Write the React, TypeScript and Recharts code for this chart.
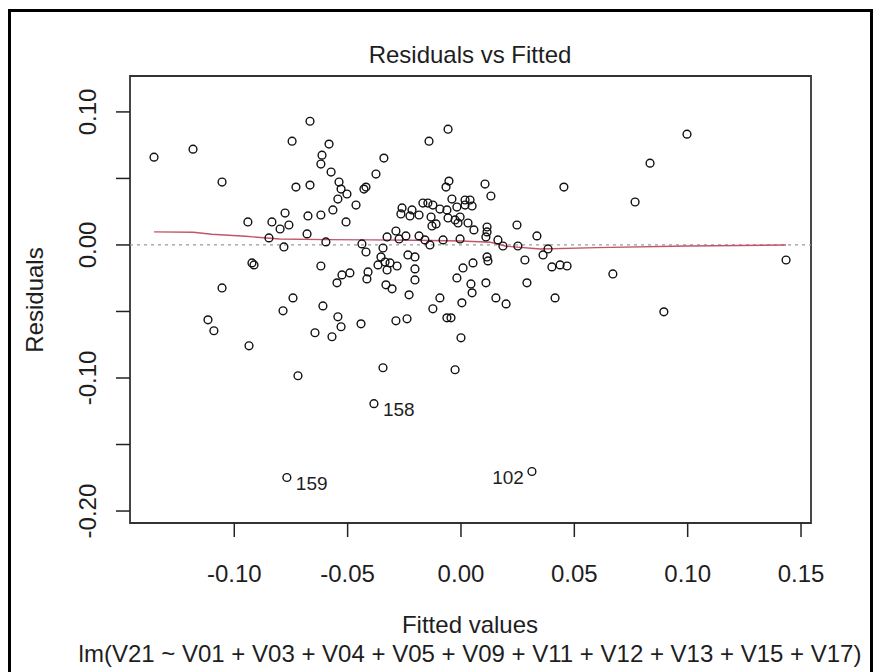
import React from "react";
import {
  ScatterChart,
  Scatter,
  XAxis,
  YAxis,
  ReferenceLine,
  ReferenceArea,
} from "recharts";

// fitted values / residuals
const fitted = [
  -0.1354, -0.1182, -0.1054, -0.094, -0.0834, -0.0798, -0.0776, -0.0759, -0.0847, -0.0781,
  -0.0922, -0.0913, -0.1054, -0.1116, -0.109, -0.0935, -0.0785, -0.0741, -0.0719,
  -0.0745, -0.0666, -0.0728, -0.0666, -0.0582, -0.0613, -0.0618, -0.0573, -0.0538, -0.0529,
  -0.0503, -0.0543, -0.0565, -0.0463, -0.0507, -0.0675, -0.0618, -0.0679, -0.0596, -0.0428,
  -0.0419, -0.0375, -0.034,
  -0.0618, -0.0525, -0.0547, -0.049, -0.041, -0.0415, -0.0437, -0.0419, -0.0344, -0.0326,
  -0.0353, -0.0335, -0.0313, -0.0282, -0.0366, -0.0326, -0.0331, -0.0304, -0.0229, -0.0609,
  -0.0543, -0.0529, -0.0644, -0.0569, -0.0441, -0.0287, -0.0238, -0.0344, -0.0234, -0.0203,
  -0.0203, -0.0203, -0.0287, -0.0273, -0.0243, -0.0185,
  -0.026, -0.0265, -0.0216, -0.0185, -0.0168, -0.0146, -0.0124, -0.0093, -0.0062, -0.004,
  -0.0018, 0.0018, 0.004, 0.0018, 0.0049, -0.0132, -0.0128, -0.011, -0.0057, -0.0026,
  -0.0004, -0.0013, 0.0031, 0.0057, -0.0141, -0.0057, -0.0053, -0.0066, 0.0106, 0.0132,
  0.0115, 0.0115, 0.011, 0.0247, 0.0335, -0.0159, -0.0137, -0.0079, -0.0004, 0.0163,
  0.0185, 0.0251, 0.0362, 0.0384, -0.0225,
  0.0009, -0.0018, 0.0044, 0.0049, 0.0053, 0.0115, 0.0119, 0.011, -0.0093, -0.0124,
  -0.0062, -0.0044, 0.0004, 0.0154, 0.0199, 0.0, -0.0026, 0.0282, 0.0291, 0.0401,
  0.0437, 0.0468, 0.0415, 0.067,
  0.0454, 0.0768, 0.0834, 0.0997, 0.0895, 0.1434,
];

const resid = [
  0.066, 0.072, 0.0473, 0.0173, 0.0173, 0.012, 0.024, 0.015, 0.0053, -0.0015,
  -0.0135, -0.015, -0.0323, -0.0563, -0.0645, -0.0758, -0.0495, -0.0398, -0.0983,
  0.078, 0.093, 0.0435, 0.045, 0.0758, 0.0675, 0.0608, 0.0548, 0.0473, 0.042,
  0.0383, 0.0345, 0.0263, 0.03, 0.0173, 0.0218, 0.0225, 0.0083, 0.0023, 0.042,
  0.0435, 0.0533, 0.0653,
  -0.0158, -0.0225, -0.0285, -0.021, -0.0203, -0.0255, 0.0008, -0.0053, -0.0023, 0.006,
  -0.009, -0.0128, -0.0135, -0.0158, -0.015, -0.0188, -0.03, -0.033, -0.0375, -0.0458,
  -0.054, -0.0615, -0.066, -0.069, -0.0593, -0.057, -0.0555, -0.0923, -0.0075, -0.009,
  -0.018, -0.0263, 0.0105, 0.0045, 0.0068, 0.0068,
  0.0278, 0.0233, 0.0263, 0.0225, 0.0315, 0.0315, 0.03, 0.027, 0.0263, 0.0345,
  0.0285, 0.0338, 0.0338, 0.03, 0.0293, 0.021, 0.0143, 0.0158, 0.0203, 0.0188,
  0.021, 0.0165, 0.0165, 0.0113, 0.078, 0.087, 0.048, 0.0435, 0.0458, 0.0368,
  0.0135, 0.0098, 0.006, 0.015, 0.0068, 0.0038, 0.0, 0.0038, 0.0045, 0.0038,
  -0.0008, -0.0008, -0.0075, -0.003, 0.0218,
  -0.0173, -0.0248, -0.0293, -0.036, -0.0135, -0.009, -0.012, -0.0285, -0.0398, -0.048,
  -0.0548, -0.0548, -0.0435, -0.0398, -0.0443, -0.0698, -0.0938, -0.0113, -0.0285, -0.0165,
  -0.015, -0.0158, -0.0398, -0.0218,
  0.0435, 0.0323, 0.0615, 0.0833, -0.0503, -0.0113,
];

// the three labelled observations
const idLabels = ["158", "159", "102"];
const idFitted = [-0.0384, -0.0768, 0.0313];
const idResid = [-0.1193, -0.1748, -0.1703];

// red smoother
const smoothFitted = [
  -0.1354, -0.118, -0.11, -0.095, -0.08, -0.06, -0.04, -0.02, 0.0, 0.013, 0.02, 0.035, 0.06,
  0.1, 0.1434,
];
const smoothResid = [
  0.0098, 0.0095, 0.008, 0.0065, 0.0045, 0.004, 0.0038, 0.0035, 0.003, 0.002, -0.001, -0.003,
  -0.002, -0.0008, 0.0,
];

const xTicks = [-0.1, -0.05, 0.0, 0.05, 0.1, 0.15];
const yTicks = [-0.2, -0.15, -0.1, -0.05, 0.0, 0.05, 0.1];

const X_DOMAIN = [-0.146, 0.1544];
const Y_DOMAIN = [-0.209, 0.127];

const FONT = "'Liberation Sans', Arial, sans-serif";
const INK = "#1e1e1e";

const points = fitted.map((x, i) => ({ x, y: resid[i] }));
const idPoints = idFitted.map((x, i) => ({ x, y: idResid[i], id: idLabels[i] }));
const smooth = smoothFitted.map((x, i) => ({ x, y: smoothResid[i] }));
const xMid = (Math.min(...fitted) + Math.max(...fitted)) / 2;

const OpenCircle = (props: any) => {
  const { cx, cy } = props;
  if (cx == null || cy == null) return null;
  return <circle cx={cx} cy={cy} r={3.9} fill="none" stroke="#111" strokeWidth={1.4} />;
};

const LabelledCircle = (props: any) => {
  const { cx, cy, payload } = props;
  if (cx == null || cy == null) return null;
  const right = payload.x < xMid;
  return (
    <g>
      <circle cx={cx} cy={cy} r={3.9} fill="none" stroke="#111" strokeWidth={1.4} />
      <text
        x={right ? cx + 9 : cx - 8}
        y={cy + 12}
        textAnchor={right ? "start" : "end"}
        fontSize={19}
        fontFamily={FONT}
        fill={INK}
      >
        {payload.id}
      </text>
    </g>
  );
};

const XTick = (props: any) => {
  const { x, y, payload } = props;
  return (
    <text x={x} y={y + 43} textAnchor="middle" fontSize={24} fontFamily={FONT} fill={INK}>
      {payload.value.toFixed(2)}
    </text>
  );
};

const YTick = (props: any) => {
  const { x, y, payload } = props;
  const v = payload.value;
  // R drops every other label here because they would overlap
  if (Math.round(v * 100) % 10 !== 0) return null;
  const bx = x - 18;
  return (
    <text
      x={bx}
      y={y}
      transform={`rotate(-90 ${bx} ${y})`}
      textAnchor="middle"
      fontSize={24}
      fontFamily={FONT}
      fill={INK}
    >
      {v.toFixed(2)}
    </text>
  );
};

export default function App() {
  return (
    <div style={{ position: "absolute", left: 0, top: 0, width: 874, height: 672, background: "#fff" }}>
      <ScatterChart width={874} height={672} margin={{ top: 76, right: 63, bottom: 0, left: 0 }}>
        <XAxis
          type="number"
          dataKey="x"
          domain={X_DOMAIN}
          ticks={xTicks}
          allowDataOverflow
          height={149}
          tickSize={14}
          tickLine={{ stroke: "#222", strokeWidth: 1.5 }}
          axisLine={false}
          tick={<XTick />}
          interval={0}
        />
        <YAxis
          type="number"
          dataKey="y"
          domain={Y_DOMAIN}
          ticks={yTicks}
          allowDataOverflow
          width={130}
          tickSize={14}
          tickLine={{ stroke: "#222", strokeWidth: 1.5 }}
          axisLine={false}
          tick={<YTick />}
          interval={0}
        />
        <ReferenceArea
          x1={X_DOMAIN[0]}
          x2={X_DOMAIN[1]}
          y1={Y_DOMAIN[0]}
          y2={Y_DOMAIN[1]}
          fill="none"
          fillOpacity={0}
          stroke="#333"
          strokeWidth={1.8}
        />
        <ReferenceLine y={0} stroke="#9a9a9a" strokeWidth={1.2} strokeDasharray="3 4" />
        <Scatter
          data={smooth}
          line={{ stroke: "#c4546c", strokeWidth: 1.4 }}
          lineType="joint"
          shape={() => null}
          isAnimationActive={false}
        />
        <Scatter data={points} shape={<OpenCircle />} isAnimationActive={false} />
        <Scatter data={idPoints} shape={<LabelledCircle />} isAnimationActive={false} />
      </ScatterChart>
      <svg
        width={874}
        height={672}
        style={{ position: "absolute", left: 0, top: 0, pointerEvents: "none" }}
        fontFamily={FONT}
        fill={INK}
      >
        <rect x={9.5} y={10.5} width={862} height={680} fill="none" stroke="#000" strokeWidth={3} />
        <text x={470} y={63} textAnchor="middle" fontSize={24}>
          Residuals vs Fitted
        </text>
        <text x={43} y={300} textAnchor="middle" fontSize={24} transform="rotate(-90 43 300)">
          Residuals
        </text>
        <text x={470} y={633} textAnchor="middle" fontSize={24}>
          Fitted values
        </text>
        <text x={470} y={662} textAnchor="middle" fontSize={24}>
          lm(V21 ~ V01 + V03 + V04 + V05 + V09 + V11 + V12 + V13 + V15 + V17)
        </text>
      </svg>
    </div>
  );
}
